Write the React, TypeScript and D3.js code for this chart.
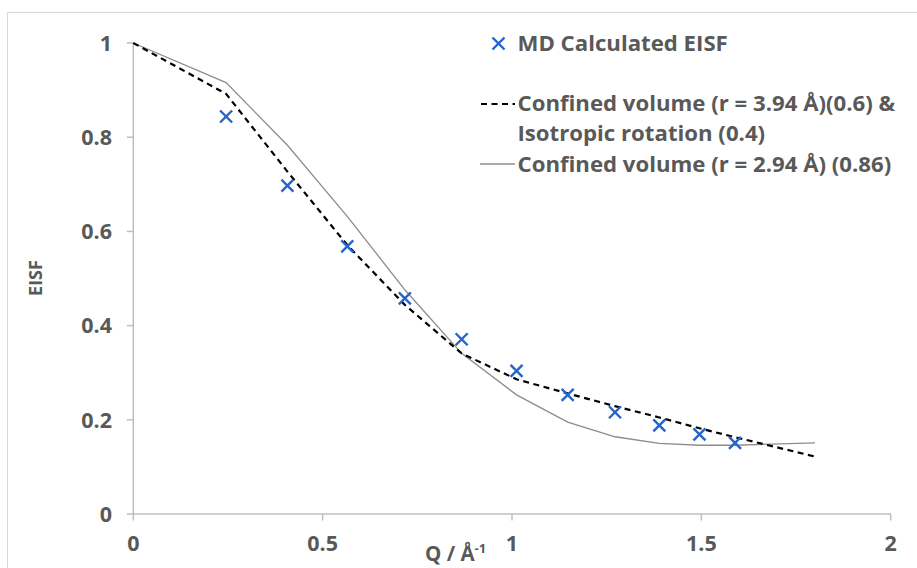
import React from "react";
import * as d3 from "d3";

const qMD = [0.245, 0.407, 0.565, 0.717, 0.867, 1.012, 1.147, 1.272, 1.389, 1.495, 1.589];
const eisfMD = [0.844, 0.697, 0.568, 0.458, 0.371, 0.304, 0.253, 0.216, 0.188, 0.169, 0.151];

const qFit = [0, 0.245, 0.407, 0.565, 0.717, 0.867, 1.012, 1.147, 1.272, 1.389, 1.495, 1.589, 1.8];
const eisfMixed = [1, 0.892, 0.727, 0.571, 0.444, 0.341, 0.286, 0.256, 0.229, 0.205, 0.182, 0.163, 0.122];
const eisfConfined = [1, 0.916, 0.783, 0.632, 0.476, 0.341, 0.253, 0.195, 0.164, 0.15, 0.146, 0.146, 0.151];

const xTicks = [0, 0.5, 1, 1.5, 2];
const yTicks = [0, 0.2, 0.4, 0.6, 0.8, 1];

const legendMD = "MD Calculated EISF";
const legendMixed1 = "Confined volume (r = 3.94 Å)(0.6) &";
const legendMixed2 = "Isotropic rotation (0.4)";
const legendConfined = "Confined volume (r = 2.94 Å) (0.86)";

const FONT = "'Open Sans', Lato, sans-serif";
const TXT = "#595959";
const BLUE = "#2466C8";

export default function App() {
  const x = d3.scaleLinear().domain([0, 2]).range([133.3, 890.7]);
  const y = d3.scaleLinear().domain([0, 1]).range([514, 43]);
  const line = d3
    .line<[number, number]>()
    .x((d) => x(d[0]))
    .y((d) => y(d[1]));
  const mixed = qFit.map((q, i) => [q, eisfMixed[i]] as [number, number]);
  const confined = qFit.map((q, i) => [q, eisfConfined[i]] as [number, number]);
  const axisColor = "#bfbfbf";
  const cross = (cx: number, cy: number, k: string) => (
    <g key={k} stroke={BLUE} strokeWidth={2.4}>
      <line x1={cx - 6} y1={cy - 6} x2={cx + 6} y2={cy + 6} />
      <line x1={cx - 6} y1={cy + 6} x2={cx + 6} y2={cy - 6} />
    </g>
  );
  const legendFs = 22.2;
  const tickFs = 21.5;
  return (
    <svg
      width={917}
      height={568}
      style={{ position: "absolute", left: 0, top: 0, background: "#fff" }}
    >
      <rect x={0} y={0} width={917} height={568} fill="#fff" />
      <rect x={7.5} y={12.5} width={920} height={600} fill="none" stroke="#d9d9d9" strokeWidth={1} />
      {/* axes */}
      <line x1={x(0)} y1={y(1)} x2={x(0)} y2={y(0)} stroke={axisColor} strokeWidth={1.5} />
      <line x1={x(0)} y1={y(0)} x2={x(2)} y2={y(0)} stroke={axisColor} strokeWidth={1.5} />
      {yTicks.map((t) => (
        <g key={"y" + t}>
          <line x1={x(0) - 6.5} x2={x(0)} y1={y(t)} y2={y(t)} stroke={axisColor} strokeWidth={1.5} />
          <text
            x={112}
            y={y(t)}
            dy="0.36em"
            textAnchor="end"
            fontFamily={FONT}
            fontWeight="bold"
            fontSize={tickFs}
            fill={TXT}
          >
            {String(t)}
          </text>
        </g>
      ))}
      {xTicks.map((t) => (
        <g key={"x" + t}>
          <line x1={x(t)} x2={x(t)} y1={y(0)} y2={y(0) + 6.5} stroke={axisColor} strokeWidth={1.5} />
          <text
            x={x(t)}
            y={550.5}
            textAnchor="middle"
            fontFamily={FONT}
            fontWeight="bold"
            fontSize={tickFs}
            fill={TXT}
          >
            {String(t)}
          </text>
        </g>
      ))}
      {/* axis titles */}
      <text x={425} y={561} fontFamily={FONT} fontWeight="bold" fontSize={20.5} fill={TXT}>
        Q / Å
        <tspan fontSize={13} dy={-8}>-1</tspan>
      </text>
      <text
        transform={`translate(41.5,278) rotate(-90)`}
        textAnchor="middle"
        fontFamily={FONT}
        fontWeight="bold"
        fontSize={18}
        fill={TXT}
      >
        EISF
      </text>
      {/* series */}
      <path d={line(confined) || ""} fill="none" stroke="#8c8c8c" strokeWidth={1.3} />
      <path
        d={line(mixed) || ""}
        fill="none"
        stroke="#000"
        strokeWidth={2.2}
        strokeDasharray="6,4.5"
      />
      {qMD.map((q, i) => cross(x(q), y(eisfMD[i]), "m" + i))}
      {/* legend */}
      {cross(498.5, 43.5, "leg")}
      <text x={517.5} y={51} fontFamily={FONT} fontWeight="bold" fontSize={legendFs} fill={TXT}>
        {legendMD}
      </text>
      <line x1={481} x2={515} y1={104} y2={104} stroke="#000" strokeWidth={2.2} strokeDasharray="6,4.5" />
      <text x={517.5} y={111} fontFamily={FONT} fontWeight="bold" fontSize={legendFs} fill={TXT}>
        {legendMixed1}
      </text>
      <text x={517.5} y={141} fontFamily={FONT} fontWeight="bold" fontSize={legendFs} fill={TXT}>
        {legendMixed2}
      </text>
      <line x1={480} x2={515} y1={164} y2={164} stroke="#8c8c8c" strokeWidth={1.3} />
      <text x={517.5} y={171.5} fontFamily={FONT} fontWeight="bold" fontSize={legendFs} fill={TXT}>
        {legendConfined}
      </text>
    </svg>
  );
}
